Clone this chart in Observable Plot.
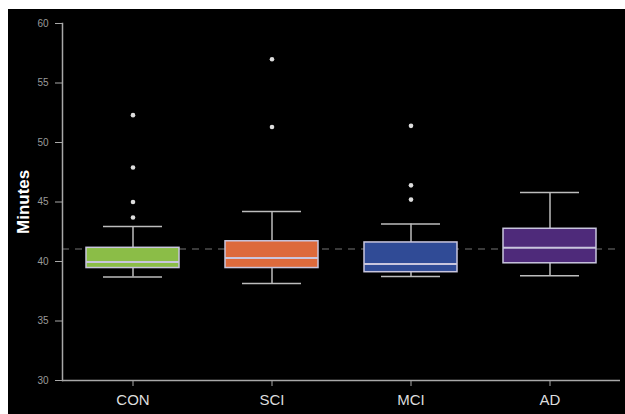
<!DOCTYPE html>
<html>
<head>
<meta charset="utf-8">
<script src="https://cdn.jsdelivr.net/npm/d3@7"></script>
<script src="https://cdn.jsdelivr.net/npm/@observablehq/plot@0.6"></script>
<style>
  html, body { margin: 0; padding: 0; background: #ffffff; }
  #chart { position: absolute; left: 8px; top: 9px; width: 617px; height: 405px; background: #000; overflow: hidden; }
  #chart svg { display: block; }
</style>
</head>
<body>
<div id="chart"></div>
<script>
const categories = ["CON", "SCI", "MCI", "AD"];
const colors = ["#8bbd47", "#dd6a3c", "#304b96", "#4e2a7a"];
const q1 = [39.45, 39.45, 39.1, 39.85];
const median = [39.95, 40.3, 39.8, 41.15];
const q3 = [41.15, 41.7, 41.6, 42.75];
const whiskerLow = [38.7, 38.15, 38.75, 38.8];
const whiskerHigh = [42.95, 44.2, 43.15, 45.8];
const outliers = [[52.3, 47.9, 45.0, 43.7], [57.0, 51.3], [51.4, 46.4, 45.2], []];
const yTicks = [30, 35, 40, 45, 50, 55, 60];
const referenceLine = 41.05;
const yLabel = "Minutes";

const stats = categories.map((c, i) => ({
  group: c, q1: q1[i], median: median[i], q3: q3[i], lo: whiskerLow[i], hi: whiskerHigh[i]
}));
const outlierRows = categories.flatMap((c, i) => outliers[i].map(v => ({group: c, value: v})));

const boxStroke = "#c9c6de";
const whiskerStroke = "#bdbdbd";
const axisStroke = "#a8a8a8";
const font = "'Liberation Sans', Arial, Helvetica, sans-serif";

const chart = Plot.plot({
  width: 617,
  height: 405,
  marginLeft: 54,
  marginRight: 5,
  marginTop: 14,
  marginBottom: 34,
  style: {background: "#000", fontFamily: font, color: "#ddd"},
  x: {type: "band", domain: categories, paddingInner: 0, paddingOuter: 0, axis: null},
  y: {domain: [30, 60], axis: null},
  color: {domain: categories, range: colors},
  marks: [
    Plot.ruleY([referenceLine], {stroke: "#4e4e4e", strokeWidth: 1.5, strokeDasharray: "7,6"}),
    Plot.ruleX(stats, {x: "group", y1: "lo", y2: "q1", stroke: whiskerStroke, strokeWidth: 1.5}),
    Plot.ruleX(stats, {x: "group", y1: "q3", y2: "hi", stroke: whiskerStroke, strokeWidth: 1.5}),
    Plot.tickY(stats, {x: "group", y: "lo", stroke: whiskerStroke, strokeWidth: 1.5, insetLeft: 40, insetRight: 40}),
    Plot.tickY(stats, {x: "group", y: "hi", stroke: whiskerStroke, strokeWidth: 1.5, insetLeft: 40, insetRight: 40}),
    Plot.barY(stats, {x: "group", y1: "q1", y2: "q3", fill: "group", stroke: boxStroke, strokeWidth: 1.5, insetLeft: 23, insetRight: 23}),
    Plot.tickY(stats, {x: "group", y: "median", stroke: boxStroke, strokeWidth: 2, insetLeft: 23, insetRight: 23}),
    Plot.dot(outlierRows, {x: "group", y: "value", r: 2.3, fill: "#dddddd", stroke: null}),
    Plot.ruleY([30], {stroke: axisStroke, strokeWidth: 1.5}),
    Plot.frame({anchor: "left", stroke: axisStroke, strokeWidth: 1.5}),
    Plot.axisY({ticks: yTicks, tickSize: 7, tickPadding: 7, stroke: axisStroke, fill: "#9a9a9a", fontSize: 10, label: null}),
    Plot.axisX({tickSize: 6, tickPadding: 8, stroke: axisStroke, fill: "#dddddd", fontSize: 15, label: null}),
    Plot.text([yLabel], {frameAnchor: "left", rotate: -90, dx: -39, dy: 32, fill: "#ffffff", fontSize: 17, fontWeight: "bold", text: d => d})
  ]
});

document.getElementById("chart").appendChild(chart);
</script>
</body>
</html>
